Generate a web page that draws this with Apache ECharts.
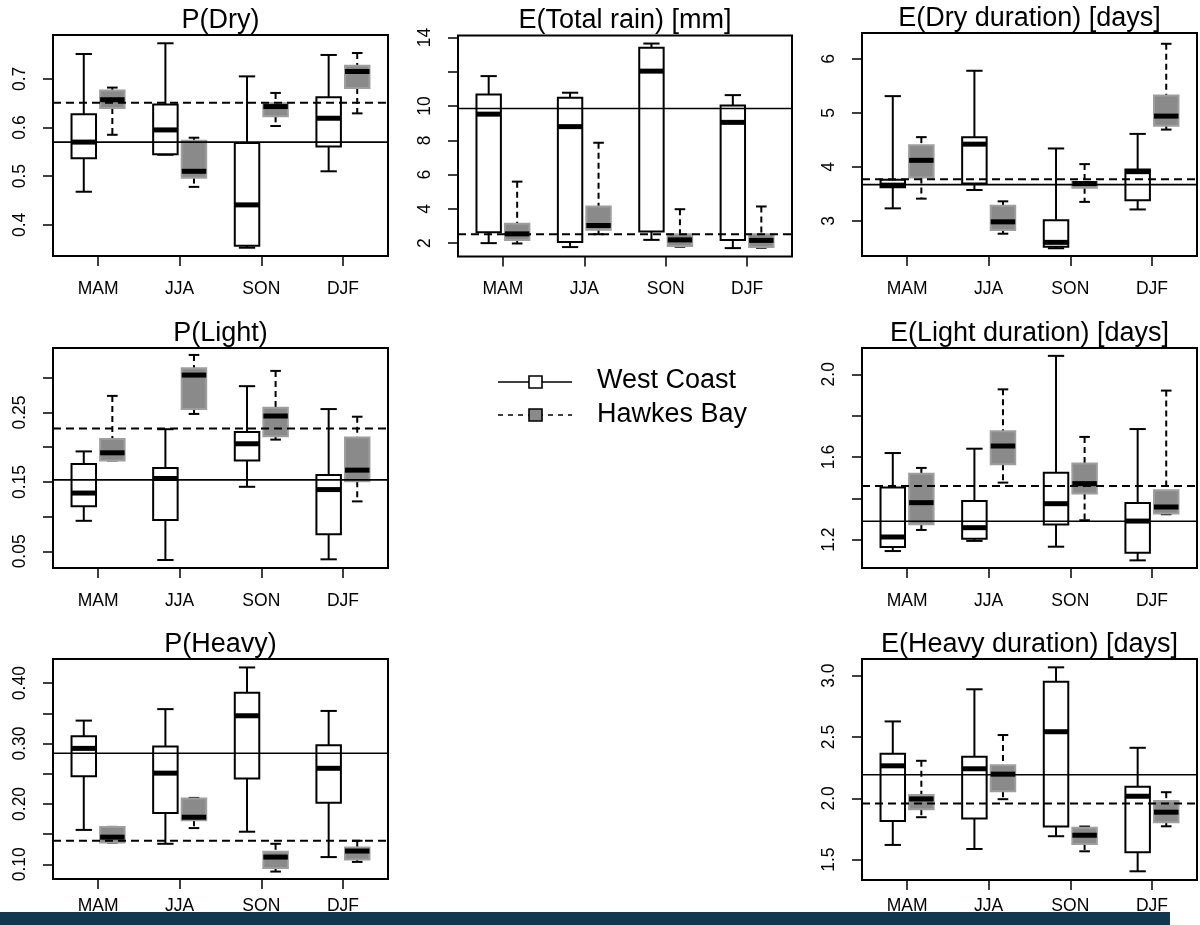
<!DOCTYPE html>
<html>
<head>
<meta charset="utf-8">
<title>Seasonal rainfall statistics</title>
<script src="https://cdn.jsdelivr.net/npm/echarts@6/dist/echarts.min.js"></script>
<style>
  html, body { margin: 0; padding: 0; background: #fff; }
  #main { width: 1200px; height: 925px; }
</style>
</head>
<body>
<div id="main"></div>
<script>
// seasons on the x axis
var seasons = ['MAM', 'JJA', 'SON', 'DJF']

// each box: [lower whisker, Q1, median, Q3, upper whisker]
var pDryWest = [[0.468, 0.537, 0.570, 0.627, 0.751], [0.544, 0.545, 0.595, 0.647, 0.773], [0.353, 0.357, 0.441, 0.568, 0.705], [0.510, 0.561, 0.619, 0.662, 0.749]]
var pDryHawkes = [[0.585, 0.640, 0.657, 0.676, 0.682], [0.478, 0.497, 0.510, 0.573, 0.579], [0.603, 0.623, 0.643, 0.650, 0.671], [0.629, 0.681, 0.715, 0.727, 0.753]]
var pDryRef = [0.570, 0.651]

var totalWest = [[2.00, 2.64, 9.53, 10.68, 11.75], [1.77, 2.06, 8.80, 10.49, 10.78], [2.19, 2.68, 12.04, 13.40, 13.65], [1.71, 2.19, 9.05, 10.04, 10.64]]
var totalHawkes = [[1.98, 2.19, 2.54, 3.13, 5.59], [2.52, 2.78, 3.03, 4.14, 7.86], [1.79, 1.84, 2.19, 2.52, 3.98], [1.73, 1.77, 2.16, 2.52, 4.14]]
var totalRef = [9.86, 2.52]

var dryDurWest = [[3.23, 3.62, 3.66, 3.76, 5.31], [3.57, 3.69, 4.42, 4.55, 5.78], [2.49, 2.52, 2.60, 3.01, 4.34], [3.21, 3.38, 3.91, 3.95, 4.61]]
var dryDurHawkes = [[3.41, 3.80, 4.12, 4.40, 4.55], [2.76, 2.83, 2.98, 3.28, 3.36], [3.35, 3.61, 3.69, 3.72, 4.05], [4.69, 4.76, 4.94, 5.32, 6.28]]
var dryDurRef = [3.67, 3.77]

var pLightWest = [[0.094, 0.115, 0.134, 0.176, 0.194], [0.0375, 0.095, 0.155, 0.170, 0.226], [0.143, 0.181, 0.205, 0.222, 0.288], [0.0385, 0.0745, 0.139, 0.160, 0.255]]
var pLightHawkes = [[0.181, 0.181, 0.192, 0.212, 0.274], [0.248, 0.255, 0.304, 0.314, 0.333], [0.211, 0.216, 0.245, 0.257, 0.310], [0.122, 0.151, 0.167, 0.214, 0.244]]
var pLightRef = [0.153, 0.227]

var lightDurWest = [[1.145, 1.165, 1.213, 1.452, 1.619], [1.194, 1.205, 1.258, 1.387, 1.640], [1.166, 1.273, 1.374, 1.524, 2.089], [1.100, 1.137, 1.290, 1.377, 1.735]]
var lightDurHawkes = [[1.247, 1.274, 1.379, 1.519, 1.547], [1.476, 1.565, 1.653, 1.724, 1.927], [1.294, 1.423, 1.471, 1.569, 1.697], [1.323, 1.326, 1.358, 1.439, 1.921]]
var lightDurRef = [1.289, 1.460]

var pHeavyWest = [[0.157, 0.246, 0.292, 0.312, 0.338], [0.134, 0.185, 0.251, 0.295, 0.357], [0.154, 0.242, 0.346, 0.384, 0.426], [0.112, 0.202, 0.259, 0.297, 0.354]]
var pHeavyHawkes = [[0.136, 0.136, 0.145, 0.162, 0.162], [0.160, 0.173, 0.178, 0.209, 0.210], [0.088, 0.094, 0.112, 0.121, 0.134], [0.104, 0.108, 0.122, 0.128, 0.139]]
var pHeavyRef = [0.284, 0.139]

var heavyDurWest = [[1.620, 1.816, 2.265, 2.363, 2.627], [1.587, 1.835, 2.241, 2.339, 2.889], [1.691, 1.770, 2.543, 2.951, 3.068], [1.405, 1.560, 2.017, 2.094, 2.412]]
var heavyDurHawkes = [[1.846, 1.911, 1.995, 2.028, 2.306], [1.993, 2.058, 2.197, 2.270, 2.516], [1.568, 1.628, 1.699, 1.761, 1.770], [1.772, 1.805, 1.887, 1.979, 2.050]]
var heavyDurRef = [2.192, 1.957]

// y tick positions and labelled ticks
var pDryTicks = [0.4, 0.5, 0.6, 0.7]
var totalTicks = [2, 4, 6, 8, 10, 12, 14]
var totalLabels = [2, 4, 6, 8, 10, 14]
var dryDurTicks = [3, 4, 5, 6]
var pLightTicks = [0.05, 0.10, 0.15, 0.20, 0.25, 0.30]
var pLightLabels = [0.05, 0.15, 0.25]
var lightDurTicks = [1.2, 1.4, 1.6, 1.8, 2.0]
var lightDurLabels = [1.2, 1.6, 2.0]
var pHeavyTicks = [0.10, 0.15, 0.20, 0.25, 0.30, 0.35, 0.40]
var pHeavyLabels = [0.10, 0.20, 0.30, 0.40]
var heavyDurTicks = [1.5, 2.0, 2.5, 3.0]

var FONT = '"Liberation Sans", Arial, Helvetica, sans-serif'

var panels = [
  { title: 'P(Dry)', west: pDryWest, hawkes: pDryHawkes, ref: pDryRef, min: 0.336, max: 0.790, ticks: pDryTicks, labels: pDryTicks, dec: 1, left: 53, top: 35, width: 335, height: 221, xm: 24 },
  { title: 'E(Total rain) [mm]', west: totalWest, hawkes: totalHawkes, ref: totalRef, min: 1.22, max: 14.12, ticks: totalTicks, labels: totalLabels, dec: 0, left: 458, top: 35.5, width: 334, height: 221, xm: 24 },
  { title: 'E(Dry duration) [days]', west: dryDurWest, hawkes: dryDurHawkes, ref: dryDurRef, min: 2.347, max: 6.48, ticks: dryDurTicks, labels: dryDurTicks, dec: 0, left: 862, top: 33, width: 335, height: 223, xm: 24 },
  { title: 'P(Light)', west: pLightWest, hawkes: pLightHawkes, ref: pLightRef, min: 0.026, max: 0.343, ticks: pLightTicks, labels: pLightLabels, dec: 2, left: 53, top: 348, width: 335, height: 220, xm: 24 },
  { title: 'E(Light duration) [days]', west: lightDurWest, hawkes: lightDurHawkes, ref: lightDurRef, min: 1.063, max: 2.127, ticks: lightDurTicks, labels: lightDurLabels, dec: 1, left: 862, top: 348, width: 335, height: 220, xm: 24 },
  { title: 'P(Heavy)', west: pHeavyWest, hawkes: pHeavyHawkes, ref: pHeavyRef, min: 0.0757, max: 0.440, ticks: pHeavyTicks, labels: pHeavyLabels, dec: 2, left: 53, top: 659, width: 335, height: 220, xm: 18 },
  { title: 'E(Heavy duration) [days]', west: heavyDurWest, hawkes: heavyDurHawkes, ref: heavyDurRef, min: 1.334, max: 3.136, ticks: heavyDurTicks, labels: heavyDurTicks, dec: 1, left: 862, top: 659, width: 335, height: 221, xm: 17 }
]

// box drawing: whiskers, staples, box, thick median
function boxRenderer(isWest) {
  return function(params, api) {
    var x = api.value(0)
    var lo = api.value(1), q1 = api.value(2), md = api.value(3), q3 = api.value(4), hi = api.value(5)
    var hw = 0.15
    var sw = isWest ? 0.1 : 0.065
    var p = function(a, b) { return api.coord([a, b]) }
    var line = function(a, b, style) {
      return { type: 'line', shape: { x1: a[0], y1: a[1], x2: b[0], y2: b[1] }, style: style }
    }
    var whisker = { stroke: '#000', lineWidth: 2, lineDash: isWest ? null : [6, 4] }
    var staple = { stroke: '#000', lineWidth: 2 }
    var tl = p(x - hw, q3)
    var br = p(x + hw, q1)
    return {
      type: 'group',
      children: [
        line(p(x, hi), p(x, q3), whisker),
        line(p(x, q1), p(x, lo), whisker),
        line(p(x - sw, hi), p(x + sw, hi), staple),
        line(p(x - sw, lo), p(x + sw, lo), staple),
        {
          type: 'rect',
          shape: { x: tl[0], y: tl[1], width: br[0] - tl[0], height: br[1] - tl[1] },
          style: { fill: isWest ? '#fff' : '#8a8a8a', stroke: isWest ? '#000' : '#9e9e9e', lineWidth: 2 }
        },
        line(p(x - hw, md), p(x + hw, md), { stroke: '#000', lineWidth: 5 })
      ]
    }
  }
}

// horizontal reference line across the whole panel
function refRenderer(dashed) {
  return function(params, api) {
    var y = api.coord([api.value(0), api.value(1)])[1]
    var cs = params.coordSys
    return {
      type: 'line',
      shape: { x1: cs.x, y1: y, x2: cs.x + cs.width, y2: y },
      style: { stroke: '#000', lineWidth: dashed ? 2 : 1.6, lineDash: dashed ? [8, 5] : null }
    }
  }
}

var grids = [], xAxes = [], yAxes = [], titles = [], series = []
panels.forEach(function(pn, k) {
  grids.push({ left: pn.left, top: pn.top, width: pn.width, height: pn.height, show: true, borderColor: '#000', borderWidth: 2, backgroundColor: 'transparent' })
  titles.push({
    text: pn.title, left: pn.left + pn.width / 2, top: pn.top - 28, textAlign: 'center', padding: 0,
    textStyle: { fontSize: 27, fontWeight: 'normal', color: '#000', fontFamily: FONT }
  })
  xAxes.push({
    type: 'value', gridIndex: k, min: 0.448, max: 4.552,
    axisLine: { show: false },
    splitLine: { show: false },
    axisTick: { show: true, customValues: [1, 2, 3, 4], length: 10, lineStyle: { color: '#000', width: 1.5 } },
    axisLabel: {
      customValues: [1, 2, 3, 4], margin: pn.xm, fontSize: 17.5, color: '#000', fontFamily: FONT,
      formatter: function(v) { return seasons[Math.round(v) - 1] }
    }
  })
  yAxes.push({
    type: 'value', gridIndex: k, min: pn.min, max: pn.max,
    axisLine: { show: false },
    splitLine: { show: false },
    axisTick: { show: true, customValues: pn.ticks, length: 10, lineStyle: { color: '#000', width: 1.5 } },
    axisLabel: {
      customValues: pn.labels, rotate: 90, margin: 24, fontSize: 17.5, color: '#000', fontFamily: FONT,
      formatter: function(v) { return Number(v).toFixed(pn.dec) }
    }
  })
  series.push({
    type: 'custom', xAxisIndex: k, yAxisIndex: k, z: 2,
    renderItem: boxRenderer(true),
    encode: { x: 0, y: [1, 2, 3, 4, 5] },
    data: pn.west.map(function(d, i) { return [i + 1 - 0.175].concat(d) })
  })
  series.push({
    type: 'custom', xAxisIndex: k, yAxisIndex: k, z: 2,
    renderItem: boxRenderer(false),
    encode: { x: 0, y: [1, 2, 3, 4, 5] },
    data: pn.hawkes.map(function(d, i) { return [i + 1 + 0.175].concat(d) })
  })
  series.push({
    type: 'custom', xAxisIndex: k, yAxisIndex: k, z: 5,
    renderItem: refRenderer(false),
    encode: { x: 0, y: 1 },
    data: [[1, pn.ref[0]]]
  })
  series.push({
    type: 'custom', xAxisIndex: k, yAxisIndex: k, z: 5,
    renderItem: refRenderer(true),
    encode: { x: 0, y: 1 },
    data: [[1, pn.ref[1]]]
  })
})

var chart = echarts.init(document.getElementById('main'), null, { renderer: 'canvas' })
chart.setOption({
  animation: false,
  backgroundColor: '#fff',
  title: titles,
  grid: grids,
  xAxis: xAxes,
  yAxis: yAxes,
  series: series,
  graphic: [
    // legend
    { type: 'line', shape: { x1: 498, y1: 382, x2: 572, y2: 382 }, style: { stroke: '#000', lineWidth: 1.6 } },
    { type: 'rect', shape: { x: 529, y: 376, width: 13, height: 12 }, style: { fill: '#fff', stroke: '#000', lineWidth: 1.6 } },
    { type: 'text', x: 597, y: 381, style: { text: 'West Coast', font: '27px ' + FONT, fill: '#000', verticalAlign: 'middle' } },
    { type: 'line', shape: { x1: 498, y1: 415, x2: 572, y2: 415 }, style: { stroke: '#000', lineWidth: 1.6, lineDash: [5, 5] } },
    { type: 'rect', shape: { x: 529, y: 409, width: 13, height: 12 }, style: { fill: '#8a8a8a', stroke: '#000', lineWidth: 1.6 } },
    { type: 'text', x: 597, y: 415, style: { text: 'Hawkes Bay', font: '27px ' + FONT, fill: '#000', verticalAlign: 'middle' } },
    // dark strip along the bottom edge
    { type: 'rect', shape: { x: 0, y: 912, width: 1170, height: 13 }, style: { fill: '#12384f' } }
  ]
})
</script>
</body>
</html>
